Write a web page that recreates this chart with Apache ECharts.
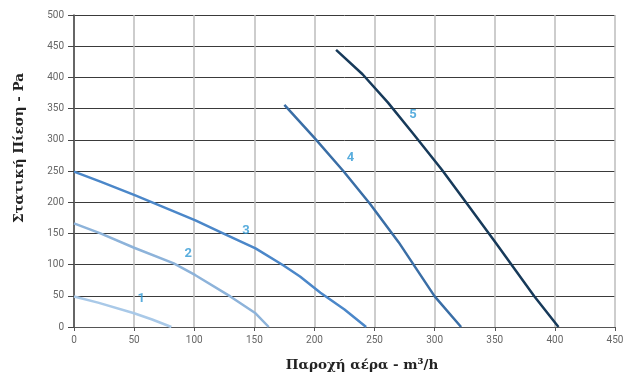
<!DOCTYPE html>
<html>
<head>
<meta charset="utf-8">
<script src="https://cdn.jsdelivr.net/npm/echarts@6/dist/echarts.min.js"></script>
<style>html,body{margin:0;padding:0;background:#fff}#c{width:623px;height:374px}</style>
</head>
<body>
<div id="c"></div>
<script>
var xTicks = [0, 50, 100, 150, 200, 250, 300, 350, 400, 450];
var yTicks = [0, 50, 100, 150, 200, 250, 300, 350, 400, 450, 500];
var xTitle = 'Παροχή αέρα - m³/h';
var yTitle = 'Στατική Πίεση - Pa';
var curve1 = [[0, 49], [20, 39], [50, 22], [65, 12], [81, 0]];
var curve2 = [[0, 166], [22, 150], [50, 127], [83, 102], [101, 83], [130, 49], [151, 22], [162, 0]];
var curve3 = [[0, 249], [22, 233], [51, 211], [101, 171], [124, 150], [151, 126], [174, 99], [188, 81], [205, 55], [225, 28], [243, 0]];
var curve4 = [[175, 356], [200, 303], [224, 250], [246, 198], [270, 136], [300, 49], [322, 0]];
var curve5 = [[218, 444], [240, 405], [261, 360], [282, 310], [306, 252], [324, 205], [350, 137], [383, 49], [403, 0]];
var curveNames = ['1', '2', '3', '4', '5'];
var labelPos = [[56, 46], [95, 117], [143, 155], [230, 271], [282, 340]];
var colors = ['#a9c9e8', '#8db3da', '#4b87c9', '#3a6ea6', '#173a5a'];

var curves = [curve1, curve2, curve3, curve4, curve5];
var series = curves.map(function (d, i) {
  return {
    type: 'line', data: d, smooth: false, symbol: 'none',
    lineStyle: { color: colors[i], width: 2.5, join: 'round' }, z: 3
  };
});
series.push({
  type: 'scatter', symbolSize: 0,
  data: labelPos.map(function (p, i) { return { value: p, name: curveNames[i] }; }),
  label: { show: true, position: 'inside', formatter: '{b}', color: '#2f98d4',
           fontFamily: 'Roboto', fontWeight: 'bold', fontSize: 13 },
  z: 4
});

var chart = echarts.init(document.getElementById('c'), null, { renderer: 'canvas' });
chart.setOption({
  animation: false,
  grid: { left: 74, right: 8, top: 15, bottom: 47, containLabel: false, outerBoundsMode: 'none' },
  graphic: [
    { type: 'text', x: 362, y: 365, style: { text: xTitle, fill: '#222', font: 'bold 13.5px "DejaVu Serif"', textAlign: 'center', textVerticalAlign: 'middle' } },
    { type: 'text', x: 19, y: 148, rotation: Math.PI / 2, style: { text: yTitle, fill: '#222', font: 'bold 13.5px "DejaVu Serif"', textAlign: 'center', textVerticalAlign: 'middle' } }
  ],
  xAxis: {
    type: 'value', min: 0, max: 450, interval: 50,
    axisLine: { show: true, lineStyle: { color: '#555', width: 1 } },
    axisTick: { show: true, length: 4, lineStyle: { color: '#555' } },
    axisLabel: { color: '#666', fontFamily: 'Roboto', fontSize: 10, margin: 8,
                 formatter: function (v) { return xTicks.indexOf(v) >= 0 ? String(v) : ''; } },
    splitLine: { show: true, lineStyle: { color: '#bdbdbd', width: 1.5 } }
  },
  yAxis: {
    type: 'value', min: 0, max: 500, interval: 50,
    axisLine: { show: true, lineStyle: { color: '#444', width: 1.5 } },
    axisTick: { show: true, length: 6, lineStyle: { color: '#444' } },
    axisLabel: { color: '#666', fontFamily: 'Roboto', fontSize: 10, margin: 10,
                 formatter: function (v) { return yTicks.indexOf(v) >= 0 ? String(v) : ''; } },
    splitLine: { show: true, lineStyle: { color: '#3a3a3a', width: 1 } }
  },
  series: series
});
</script>
</body>
</html>
